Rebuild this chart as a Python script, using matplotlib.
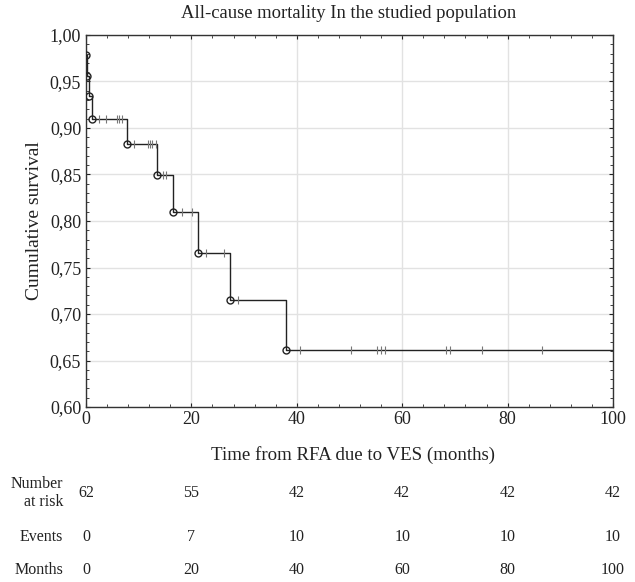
import numpy as np
import matplotlib
matplotlib.use("Agg")
import matplotlib.pyplot as plt
from matplotlib.ticker import MultipleLocator, FuncFormatter
from matplotlib.transforms import blended_transform_factory

# Kaplan-Meier steps
event_times = [0.0, 0.1, 0.6, 1.2, 7.7, 13.5, 16.5, 21.2, 27.3, 37.9]
event_surv = [0.978, 0.956, 0.934, 0.910, 0.8825, 0.849, 0.810, 0.766, 0.7154, 0.6616]
censor_times = [2.5, 3.8, 5.9, 6.3, 6.8,
                9.2, 11.8, 12.2, 12.6, 13.3,
                14.7, 15.1, 18.2, 20.2, 22.8, 26.1, 28.9,
                40.7, 50.2, 55.3, 56.0, 56.7, 68.4, 69.1, 75.2, 86.6]
end_time = 100

# risk table
table_months = [0, 20, 40, 60, 80, 100]
at_risk = [62, 55, 42, 42, 42, 42]
events = [0, 7, 10, 10, 10, 10]

plt.rcParams['font.family'] = ['Liberation Serif', 'DejaVu Serif']

fig = plt.figure(figsize=(6.35, 5.82), dpi=100)
ax = fig.add_axes([86 / 635, 1 - 407 / 582, (613 - 86) / 635, (407 - 35) / 582])

step_x = event_times + [end_time]
step_y = event_surv + [event_surv[-1]]
ax.step(step_x, step_y, where='post', color='#222222', lw=1.0, zorder=3)
ax.plot(event_times, event_surv, 'o', ms=5, mfc='none', mec='#222222',
        mew=1.0, zorder=4)

idx = np.searchsorted(event_times, censor_times, side='right') - 1
censor_surv = np.array(event_surv)[idx]
ax.plot(censor_times, censor_surv, '|', ms=6, mew=0.8, color='#777777', zorder=3)

ax.set_xlim(0, 100)
ax.set_ylim(0.60, 1.00)
ax.xaxis.set_major_locator(MultipleLocator(20))
ax.xaxis.set_minor_locator(MultipleLocator(4))
ax.yaxis.set_major_locator(MultipleLocator(0.05))
ax.yaxis.set_minor_locator(MultipleLocator(0.01))
ax.yaxis.set_major_formatter(FuncFormatter(lambda v, p: f"{v:.2f}".replace('.', ',')))
ax.tick_params(which='both', direction='in', top=True, right=True,
               labelsize=13, colors='#222222')
ax.tick_params(which='major', length=3, width=0.8)
ax.tick_params(which='minor', length=2, width=0.6)
ax.tick_params(axis='x', pad=3)
ax.grid(True, which='major', color='#e2e2e2', lw=1.0, zorder=0)
for s in ax.spines.values():
    s.set_color('#333333')
    s.set_linewidth(1.0)

fig.text(349 / 635, 1 - 14 / 582, "All-cause mortality In the studied population",
         fontsize=13.4, ha='center', va='center', color='#222222')
ax.set_ylabel("Cumulative survival", fontsize=14, labelpad=5, color='#222222')
fig.text(353 / 635, 1 - 455 / 582, "Time from RFA due to VES (months)",
         fontsize=13.6, ha='center', va='center', color='#222222')

tr = blended_transform_factory(ax.transData, fig.transFigure)
rows = [("Number\nat risk", at_risk, 1 - 493 / 582),
        ("Events", events, 1 - 537 / 582),
        ("Months", table_months, 1 - 570 / 582)]
for label, vals, y in rows:
    fig.text(63 / 635, y, label, ha='right', va='center', fontsize=11.5,
             linespacing=1.2, color='#222222')
    for m, v in zip(table_months, vals):
        ax.text(m, y, str(v), transform=tr, ha='center', va='center',
                fontsize=11.5, color='#222222')

fig.savefig("out.png", dpi=100)
